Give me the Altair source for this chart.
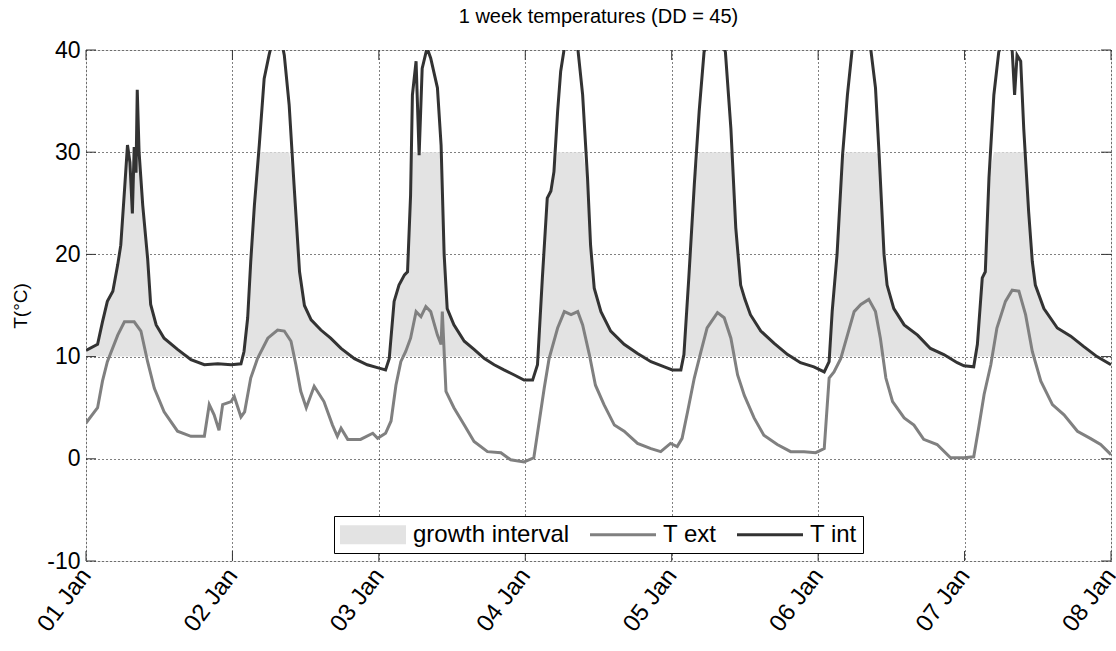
import json
import altair as alt
import pandas as pd
import numpy as np

# ---- data (hours since 01 Jan 00:00) ----
tint_h = [0, 1.9, 2.7, 3.5, 4.4, 5.2, 5.7, 6.3, 6.8, 7.2, 7.6, 7.9, 8.2, 8.4, 8.7, 9.3, 10.1, 10.6, 11.5,
          12.8, 15, 17.2, 19.4, 21.6, 23.8, 25.4, 25.9, 26.5, 27, 27.6, 28.4, 29.2, 30, 30.6, 32, 32.5,
          33.3, 34.1, 35, 35.8, 36.9, 38.5, 40.1, 41.8, 44, 46.1, 47.9, 49.1, 49.7, 50.5, 51.3, 52.2,
          52.7, 53.2, 53.5, 54.1, 54.6, 55.1, 55.9, 56.5, 57.6, 58.2, 58.7, 59.2, 60.3, 62, 63.6, 65.3,
          66.9, 68.5, 70.2, 71.8, 73.2, 74, 74.8, 75.6, 76.2, 76.7, 77.3, 77.8, 78.4, 79.5, 80.6, 81.4,
          82.2, 82.7, 83.3, 84.4, 86, 88.2, 90.4, 92.6, 94.8, 96.1, 97.5, 98, 98.8, 99.7, 100.5, 101.3,
          102.4, 104, 104.8, 105.7, 106.5, 107.3, 108.0, 108.9, 110.6, 112.8, 115, 117.1, 119.3, 121,
          121.8, 122.3, 123.1, 124, 124.8, 125.6, 127, 128.6, 129.4, 130, 130.8, 131.3, 132.4, 134.1,
          136.3, 138.4, 140.6, 142.8, 143.9, 145.5, 146.1, 146.9, 147.4, 148, 148.8, 149.6, 150.4,
          151.8, 152.2, 152.6, 153.2, 153.7, 154.5, 155.1, 155.6, 157, 159.2, 161.4, 163.5, 165.7, 168]
tint_v = [10.6, 11.2, 13.4, 15.4, 16.4, 19, 20.9, 26.2, 30.7, 29, 24, 30.5, 28, 36.1, 30, 24.8, 19.6, 15.1, 13.1,
          11.8, 10.7, 9.7, 9.2, 9.3, 9.2, 9.3, 10.5, 13.8, 19.3, 24.8, 30.7, 37.2, 39.5, 41, 41, 39.5,
          34.6, 26.8, 18.3, 15.0, 13.6, 12.6, 11.8, 10.8, 9.8, 9.2, 8.9, 8.7, 9.8, 15.4, 17, 18,
          18.3, 25.8, 35.6, 38.9, 29.7, 38.2, 40.2, 39.2, 36.3, 30.7, 20, 14.7, 13.1, 11.5, 10.7, 9.8,
          9.2, 8.7, 8.2, 7.7, 7.7, 9.2, 17.7, 25.5, 26.2, 28.1, 34, 37.9, 40.2, 41, 40.2, 35.6,
          27.5, 20.9, 16.7, 14.4, 12.5, 11.2, 10.3, 9.5, 9, 8.7, 8.7, 10.2, 17.7, 26.8, 34, 39.8,
          42, 41, 39.8, 32.3, 22.6, 17, 15.6, 14.1, 12.5, 11.3, 10.2, 9.4, 9, 8.5,
          9.5, 14.4, 20, 29.7, 35.6, 40.2, 42, 40.2, 36.3, 29.7, 20, 17, 14.7, 13.1,
          12.1, 10.8, 10.2, 9.4, 9.1, 9, 11.2, 17.7, 18.3, 27.5, 35.6, 39.8, 41,
          40, 35.6, 39.5, 38.9, 32.3, 24.2, 19.3, 17, 14.7, 12.8, 12, 11, 10, 9.2]

text_h = [0, 1.9, 2.7, 3.5, 5.2, 6.3, 7.9, 9, 10.1, 11.2, 12.8, 15, 17.2, 19.4, 20.2, 21, 21.8, 22.4, 23.8,
          24.3, 25.4, 26, 27, 28.1, 29.8, 31.4, 32.5, 33.6, 34.4, 35.2, 36.1, 37.4, 39, 40.4, 41.2, 41.8,
          42.9, 45, 47, 47.8, 49.1, 50, 50.8, 51.6, 52.4, 53.2, 54.1, 54.9, 55.7, 56.5, 57.6, 58.2, 58.4,
          59, 60.3, 62, 63.6, 65.8, 68, 69.6, 71.8, 73.4, 74.3, 75.1, 75.9, 77.3, 78.4, 79.5, 80.6, 81.4,
          82.5, 83.5, 84.9, 86.6, 88.2, 90.4, 92.6, 94.2, 95.8, 96.9, 97.7, 98.6, 99.7, 100.8, 101.8,
          103.5, 104.6, 105.7, 106.8, 107.9, 109.5, 111.1, 113.3, 115.5, 117.7, 119.6, 121, 121.8, 122.6,
          123.7, 124.8, 125.9, 127, 128.3, 129.4, 130.2, 131.1, 132.2, 134.1, 135.7, 137.3, 139.5, 141.7,
          143.9, 145.5, 146.3, 147.2, 148.3, 149.3, 150.7, 151.8, 152.9, 154, 155.1, 156.5, 158.4, 160.3,
          162.5, 164.6, 166.3, 168]
text_v = [3.5, 5, 7.6, 9.5, 12.1, 13.4, 13.4, 12.5, 9.5, 6.9, 4.6, 2.7, 2.2, 2.2, 5.3, 4.3, 2.8, 5.3, 5.6,
          6.1, 4.1, 4.6, 7.9, 9.8, 11.8, 12.6, 12.5, 11.5, 9.2, 6.6, 5.0, 7.1, 5.6, 3.3, 2.2, 3.0,
          1.9, 1.9, 2.5, 2.0, 2.5, 3.7, 7.2, 9.5, 10.5, 11.8, 14.4, 13.9, 14.9, 14.4, 12.1, 11.2, 14.4,
          6.6, 5, 3.3, 1.7, 0.7, 0.6, -0.1, -0.3, 0.1, 3.7, 6.9, 9.8, 12.8, 14.4, 14.1, 14.4, 13.1,
          10.2, 7.2, 5.3, 3.3, 2.7, 1.5, 1.0, 0.7, 1.5, 1.2, 2.0, 4.6, 7.9, 10.5, 12.8,
          14.3, 13.8, 11.8, 8.2, 6.2, 4, 2.3, 1.4, 0.7, 0.7, 0.6, 1, 7.9, 8.5,
          9.8, 12.1, 14.4, 15.1, 15.6, 14.4, 11.8, 7.9, 5.6, 4, 3.3, 1.9, 1.4, 0.1,
          0.1, 0.2, 3, 6.3, 9.2, 12.8, 15.4, 16.5, 16.4, 14.1, 10.5, 7.6, 5.3, 4.3,
          2.7, 2, 1.4, 0.4]

day_labels = ["01 Jan", "02 Jan", "03 Jan", "04 Jan", "05 Jan", "06 Jan", "07 Jan", "08 Jan"]
x_ticks = [0, 24, 48, 72, 96, 120, 144, 168]
y_ticks = [-10, 0, 10, 20, 30, 40]
series_names = ["growth interval", "T ext", "T int"]
series_colors = ["#e3e3e3", "#808080", "#333333"]
growth_low, growth_high = 10, 30

W, H = 1025, 511
FONT = "Liberation Sans"

df_int = pd.DataFrame({"h": tint_h, "T": tint_v, "series": "T int"})
df_ext = pd.DataFrame({"h": text_h, "T": text_v, "series": "T ext"})
df_area = pd.DataFrame({"h": tint_h, "lo": growth_low,
                        "hi": np.clip(np.array(tint_v), growth_low, growth_high),
                        "series": "growth interval"})
df_xt = pd.DataFrame({"h": x_ticks})
df_yt = pd.DataFrame({"T": y_ticks})

label_expr = json.dumps(day_labels) + "[round(datum.value/24)]"
grid_kw = dict(grid=True, gridDash=[1, 3], gridColor="#000000", gridOpacity=1, gridWidth=1,
               ticks=False, domain=False, labelFont=FONT, titleFont=FONT,
               labelColor="#000", titleColor="#000")

xenc = alt.X("h:Q", scale=alt.Scale(domain=[0, 168], nice=False, zero=False),
             axis=alt.Axis(values=x_ticks, labelExpr=label_expr, title=None,
                           labelAngle=307, labelAlign="right", labelBaseline="middle",
                           labelPadding=10, labelFontSize=24, labelOverlap=False,
                           labelFlush=False, **grid_kw))
yscale = alt.Scale(domain=[-10, 40], nice=False, zero=False)
yaxis = alt.Axis(values=y_ticks, title="T(°C)", labelExpr="'' + datum.value",
                 labelFontSize=23, labelPadding=6, titleFontSize=19, titleFontWeight="normal",
                 titlePadding=16, labelFlush=False, **grid_kw)

# legend swatches: wide patch for the area, thin bar for the lines
shape_expr = ("datum.value === 'growth interval' ? 'M-1,-0.76H4.28V0.76H-1Z' "
              ": 'M-1,-0.12H4.28V0.12H-1Z'")
color = alt.Color("series:N", scale=alt.Scale(domain=series_names, range=series_colors),
                  legend=alt.Legend(title=None, orient="none", legendX=248, legendY=466,
                                    direction="horizontal",
                                    symbolType=alt.ExprRef(shape_expr),
                                    symbolSize=625, symbolStrokeWidth=0,
                                    symbolFillColor=alt.ExprRef("scale('color', datum.value)"),
                                    symbolOpacity=1,
                                    labelFontSize=24, labelFont=FONT,
                                    labelColor="#000", strokeColor="#000", fillColor="white",
                                    padding=6, columnPadding=20, labelOffset=48))

area = alt.Chart(df_area).mark_area(clip=True, interpolate="linear").encode(
    x=xenc, y=alt.Y("lo:Q", scale=yscale, axis=yaxis), y2="hi:Q", color=color)
line_ext = alt.Chart(df_ext).mark_line(clip=True, strokeWidth=3).encode(
    x=xenc, y=alt.Y("T:Q", scale=yscale, axis=yaxis), color=color)
line_int = alt.Chart(df_int).mark_line(clip=True, strokeWidth=3).encode(
    x=xenc, y=alt.Y("T:Q", scale=yscale, axis=yaxis), color=color)

tick_col = "#333333"
xt_bottom = alt.Chart(df_xt).mark_rule(color=tick_col).encode(
    x=alt.X("h:Q"), y=alt.value(H), y2=alt.value(H - 10))
xt_top = alt.Chart(df_xt).mark_rule(color=tick_col).encode(
    x=alt.X("h:Q"), y=alt.value(0), y2=alt.value(10))
yt_left = alt.Chart(df_yt).mark_rule(color=tick_col).encode(
    y=alt.Y("T:Q"), x=alt.value(0), x2=alt.value(10))
yt_right = alt.Chart(df_yt).mark_rule(color=tick_col).encode(
    y=alt.Y("T:Q"), x=alt.value(W), x2=alt.value(W - 10))

chart = alt.layer(area, line_ext, line_int, xt_bottom, xt_top, yt_left, yt_right).properties(
    width=W, height=H,
    title=alt.Title("1 week temperatures (DD = 45)", fontSize=20, fontWeight="normal",
                    font=FONT, color="#000", offset=12, anchor="middle"),
    autosize=alt.AutoSizeParams(type="none"),
    padding={"left": 86, "top": 50, "right": 5, "bottom": 90},
).configure_view(stroke="#333333", strokeWidth=1).configure(background="white")

chart.save("out.html", embed_options={"renderer": "svg", "actions": False})
